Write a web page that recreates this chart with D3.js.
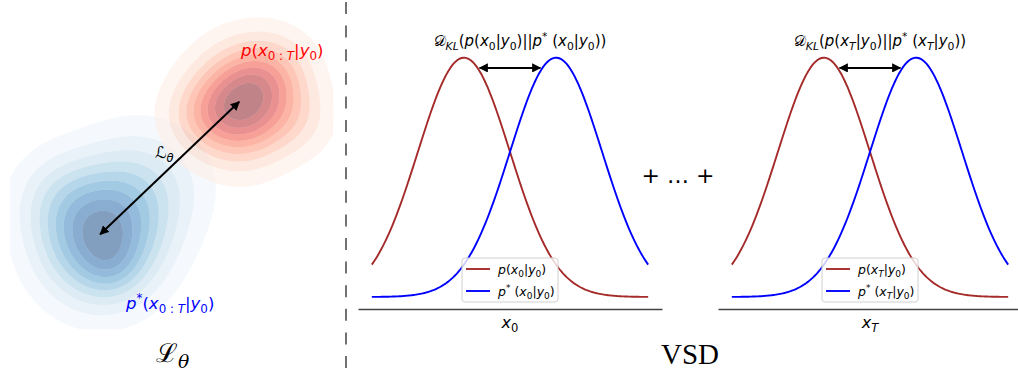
<!DOCTYPE html>
<html>
<head>
<meta charset="utf-8">
<script src="https://cdn.jsdelivr.net/npm/d3@7"></script>
<style>body{margin:0;background:#fff}</style>
</head>
<body>
<div id="rootDiv"></div>
<script>
const width = 1018
const height = 375

// right panels: two gaussians over x in [-3, 3], given as [mean, sd]
const curveDomain = [-3, 3]
const modelCurve = [-1, 1]    // p(x|y0), brown
const targetCurve = [1, 1]    // p*(x|y0), blue
const klArrow = [-0.66, 0.66, 0.382]   // x1, x2, height
const panelSteps = ["0", "T"]

// left panel: density bumps [cx, cy, sx, sy, weight] in a 0..8 box
const blueBumps = [
    [2.20, 2.39, 1.02, 1.06, 1.0],
    [3.25, 3.75, 1.10, 1.05, 0.36],
    [1.10, 3.49, 0.80, 0.80, 0.2],
    [2.49, 1.71, 0.49, 0.49, 0.12],
]
const redBumps = [
    [5.61, 5.66, 0.83, 0.93, 1.0],
    [6.45, 6.49, 0.72, 0.70, 0.35],
    [4.55, 5.40, 0.66, 0.66, 0.22],
    [7.05, 5.30, 0.68, 0.65, 0.2],
]
const blueClip = [0, 5.07, 0.2, 8]     // xmin, xmax, ymin, ymax
const redClip = [3.4, 7.88, 0, 7.83]
const isoLevels = [0.05, 0.156, 0.261, 0.367, 0.472, 0.578, 0.683, 0.789, 0.894]
const endPoints = [[2.2, 2.53], [5.59, 5.76]]   // L_theta arrow

function mathRuns(s) {
    const chars = Array.from(s)
    const out = []
    let i = 0
    const push = (ch, lvl) => {
        const it = /[A-Za-zθ]/.test(ch)
        const last = out[out.length - 1]
        if (last && last.lvl === lvl && last.it === it) last.s += ch
        else out.push({ s: ch, lvl, it })
    }
    while (i < chars.length) {
        const c = chars[i]
        if (c === "_" || c === "^") {
            const lvl = c === "_" ? 1 : 2
            i++
            if (chars[i] === "{") {
                i++
                while (chars[i] !== "}") { push(chars[i], lvl); i++ }
                i++
            } else { push(chars[i], lvl); i++ }
        } else { push(c, 0); i++ }
    }
    return out
}

function mathText(g, x, y, s, size, color, anchor, family) {
    const t = g.append("text")
        .attr("x", x)
        .attr("y", y)
        .attr("font-family", family || "DejaVu Sans")
        .attr("font-size", size)
        .attr("fill", color)
        .attr("text-anchor", anchor || "middle")
    let cur = 0
    mathRuns(s).forEach(r => {
        const off = r.lvl === 1 ? size * 0.24 : r.lvl === 2 ? -size * 0.4 : 0
        t.append("tspan")
            .attr("dy", off - cur)
            .attr("font-size", r.lvl ? size * 0.72 : size)
            .attr("font-style", r.it ? "italic" : "normal")
            .text(r.s)
        cur = off
    })
    return t
}

const svg = d3.select("#rootDiv")
    .append("svg")
    .attr("width", width)
    .attr("height", height)

const defs = svg.append("defs")
defs.append("marker")
    .attr("id", "head")
    .attr("viewBox", "0 0 10 10")
    .attr("refX", 9)
    .attr("refY", 5)
    .attr("markerWidth", 4.6)
    .attr("markerHeight", 4.6)
    .attr("orient", "auto-start-reverse")
    .append("path")
    .attr("d", "M0,0 L10,5 L0,10 Z")
    .attr("fill", "#000")

// ---------- left panel: filled density contours ----------
const lx = d3.scaleLinear().domain([0, 8]).range([10, 338])
const ly = d3.scaleLinear().domain([0, 8]).range([338, 10])
const gridN = 164
const gx = d3.scaleLinear().domain([0, gridN]).range([0, 8])
const gy = d3.scaleLinear().domain([0, gridN]).range([8, 0])

const toPx = d3.geoTransform({
    point(x, y) { this.stream.point(lx(gx(x)), ly(gy(y))) }
})
const path = d3.geoPath(toPx)

function drawBlob(bumps, clip, interp) {
    const values = new Float64Array(gridN * gridN)
    for (let j = 0; j < gridN; j++) {
        for (let i = 0; i < gridN; i++) {
            const x = gx(i + 0.5), y = gy(j + 0.5)
            if (x < clip[0] || x > clip[1] || y < clip[2] || y > clip[3]) continue
            let v = 0
            for (const [cx, cy, sx, sy, w] of bumps) {
                v += w * Math.exp(-((x - cx) ** 2) / (2 * sx * sx) - ((y - cy) ** 2) / (2 * sy * sy))
            }
            values[i + j * gridN] = v
        }
    }
    // iso-proportion thresholds (share of mass below each level)
    const sorted = Array.from(values).filter(v => v > 0).sort((a, b) => a - b)
    const total = d3.sum(sorted)
    const thresholds = []
    let acc = 0, k = 0
    for (const v of sorted) {
        acc += v
        while (k < isoLevels.length && acc / total >= isoLevels[k]) { thresholds.push(v); k++ }
    }
    const polys = d3.contours().size([gridN, gridN]).thresholds(thresholds)(values)
    const g = svg.append("g")
    polys.forEach((p, b) => {
        const inner = polys[b + 1] ? path(polys[b + 1]) || "" : ""
        g.append("path")
            .attr("d", (path(p) || "") + inner)
            .attr("fill-rule", "evenodd")
            .attr("fill", interp((b + 0.5) / polys.length))
            .attr("fill-opacity", 0.5)
    })
}
drawBlob(blueBumps, blueClip, d3.interpolateBlues)
drawBlob(redBumps, redClip, d3.interpolateReds)

svg.append("line")
    .attr("x1", lx(endPoints[0][0]))
    .attr("y1", ly(endPoints[0][1]))
    .attr("x2", lx(endPoints[1][0]))
    .attr("y2", ly(endPoints[1][1]))
    .attr("stroke", "#000")
    .attr("stroke-width", 2)
    .attr("marker-start", "url(#head)")
    .attr("marker-end", "url(#head)")

mathText(svg, 155, 158, "ℒ_θ", 16, "#000", "start")
mathText(svg, 241, 56, "p(x_{0 : T}|y_0)", 16.5, "#ff0000", "start")
mathText(svg, 126, 309, "p^*(x_{0 : T}|y_0)", 16.5, "#0000ff", "start")
mathText(svg, 156, 362, "ℒ_θ", 26, "#000", "start", "DejaVu Serif")

svg.append("line")
    .attr("x1", 346).attr("x2", 346)
    .attr("y1", 2).attr("y2", 372)
    .attr("stroke", "#444")
    .attr("stroke-width", 1.5)
    .attr("stroke-dasharray", "12,11.6")

// ---------- right panels ----------
const yScale = d3.scaleLinear().domain([-0.02, 0.419]).range([309, 45.7])
const samples = d3.range(curveDomain[0], curveDomain[1] + 1e-9, 0.03)
const pdf = (x, [m, s]) => Math.exp(-((x - m) ** 2) / (2 * s * s)) / (s * Math.sqrt(2 * Math.PI))

panelSteps.forEach((step, idx) => {
    const x = d3.scaleLinear().domain([-3.3, 3.3]).range(idx ? [718, 1022] : [358, 662])
    const g = svg.append("g")

    g.append("g")
        .attr("transform", `translate(0,${yScale(-0.02)})`)
        .call(d3.axisBottom(x).ticks(0).tickSize(0).tickSizeOuter(0))
        .call(a => a.select(".domain").attr("stroke", "#444").attr("stroke-width", 1.3))

    const line = d3.line().x(d => x(d[0])).y(d => yScale(d[1]))
    ;[[modelCurve, "#a52a2a"], [targetCurve, "#0000ff"]].forEach(([c, col]) => {
        g.append("path")
            .attr("d", line(samples.map(v => [v, pdf(v, c)])))
            .attr("fill", "none")
            .attr("stroke", col)
            .attr("stroke-width", 1.9)
    })

    g.append("line")
        .attr("x1", x(klArrow[0])).attr("x2", x(klArrow[1]))
        .attr("y1", yScale(klArrow[2])).attr("y2", yScale(klArrow[2]))
        .attr("stroke", "#000")
        .attr("stroke-width", 2)
        .attr("marker-start", "url(#head)")
        .attr("marker-end", "url(#head)")

    mathText(g, x(0) + 10, 46, `𝒟_{KL}(p(x_${step}|y_0)||p^* (x_${step}|y_0))`, 15, "#000")
    mathText(g, x(0), 328, `x_${step}`, 16, "#000")

    // legend, lower center
    const lg = g.append("g").attr("transform", `translate(${x(0) - 48},${yScale(-0.02) - 51})`)
    lg.append("rect")
        .attr("width", 96).attr("height", 44).attr("rx", 3)
        .attr("fill", "#fff").attr("fill-opacity", 0.8)
        .attr("stroke", "#d0d0d0")
    ;[[`p(x_${step}|y_0)`, "#a52a2a"], [`p^* (x_${step}|y_0)`, "#0000ff"]].forEach(([lab, col], i) => {
        lg.append("line")
            .attr("x1", 4).attr("x2", 28)
            .attr("y1", 11 + i * 22).attr("y2", 11 + i * 22)
            .attr("stroke", col).attr("stroke-width", 1.9)
        mathText(lg, 36, 15.5 + i * 22, lab, 12.5, "#000", "start")
    })
})

svg.append("text")
    .attr("x", 678).attr("y", 183)
    .attr("text-anchor", "middle")
    .attr("font-family", "DejaVu Sans")
    .attr("font-size", 22)
    .text("+ … +")

svg.append("text")
    .attr("x", 690).attr("y", 364)
    .attr("text-anchor", "middle")
    .attr("font-family", "Liberation Serif")
    .attr("font-size", 29)
    .text("VSD")
</script>
</body>
</html>
